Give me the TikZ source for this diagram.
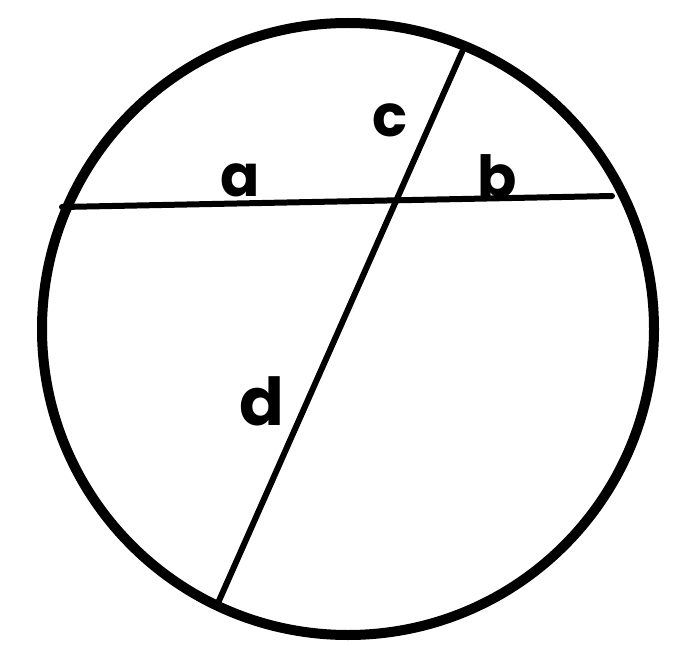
\documentclass[tikz,border=0pt]{standalone}
\usepackage{fontspec}
\setmainfont{Poppins}
\usepackage{tikz}
\usetikzlibrary{positioning}

\begin{document}
\begin{tikzpicture}[
    x=1pt, y=-1pt,
    rim/.style={circle, draw, line width=10pt, inner sep=0pt, minimum size=612pt},
    chord/.style={line width=6pt, line cap=round},
    lbl/.style={anchor=base, inner sep=0pt, font=\fontsize{58}{58}\selectfont\bfseries}
]
    \useasboundingbox (0,0) rectangle (683,671);

    % Circle
    \node[rim] (disc) at (348,329) {};

    % Chord ends
    \coordinate (hl) at (62,207);
    \coordinate (hr) at (612,196);
    \coordinate (st) at (462,52);
    \coordinate (sb) at (218,603);

    % Chords
    \draw[chord] (hl) -- (hr);
    \draw[chord] (st) -- (sb);

    % Labels
    \node[lbl] (la) at (240,197) {a};
    \node[lbl] (lc) at (390,137) {c};
    \node[lbl] (lb) at (497,198) {b};
    \node[lbl, font=\fontsize{66}{66}\selectfont\bfseries] (ld) at (262,425) {d};
\end{tikzpicture}
\end{document}
